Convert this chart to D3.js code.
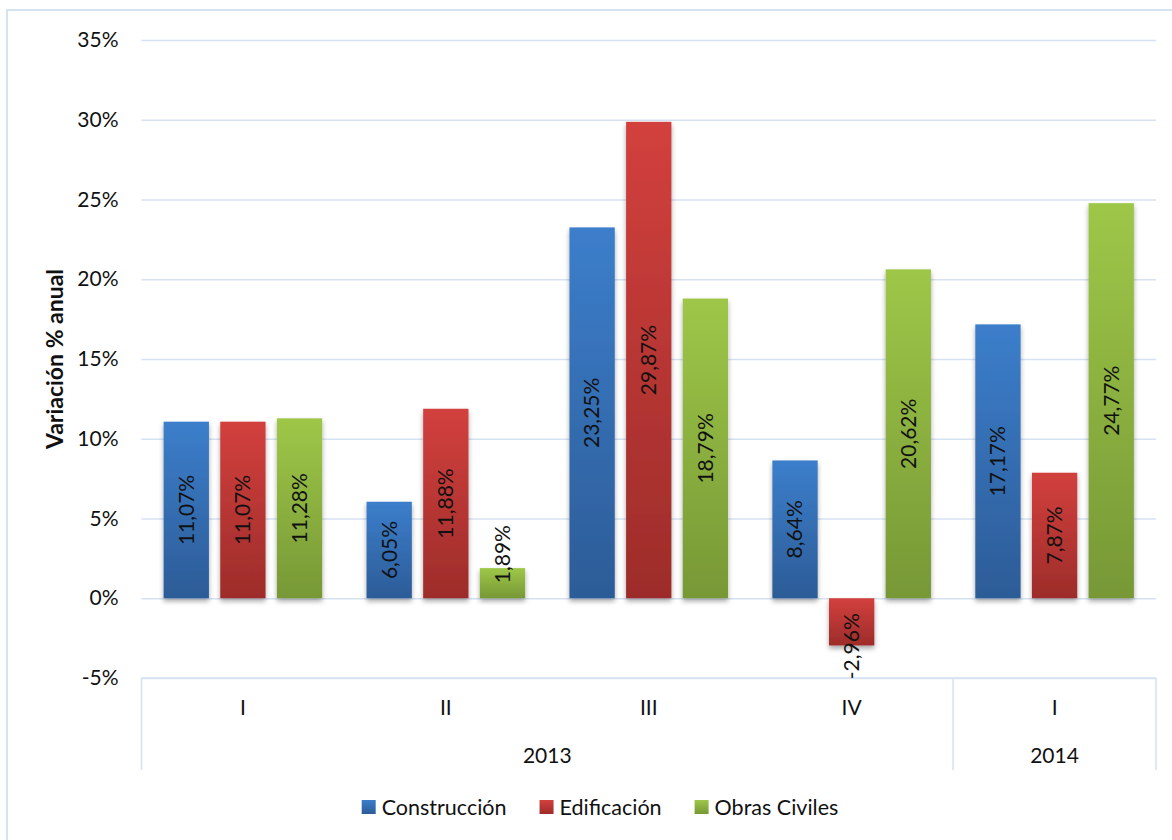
<!DOCTYPE html>
<html>
<head>
<meta charset="utf-8">
<script src="https://cdn.jsdelivr.net/npm/d3@7"></script>
<style>
  html, body { margin: 0; padding: 0; background: #fff; }
  svg { display: block; font-family: Lato, "Open Sans", sans-serif; }
</style>
</head>
<body>
<svg id="chart" width="1172" height="840"></svg>
<script>
const quarters = ["I", "II", "III", "IV", "I"];
const years = ["2013", "2013", "2013", "2013", "2014"];
const seriesNames = ["Construcción", "Edificación", "Obras Civiles"];
const construccion = [11.07, 6.05, 23.25, 8.64, 17.17];
const edificacion = [11.07, 11.88, 29.87, -2.96, 7.87];
const obrasCiviles = [11.28, 1.89, 18.79, 20.62, 24.77];
const yTicks = [-5, 0, 5, 10, 15, 20, 25, 30, 35];
const yTitle = "Variación % anual";

(function () {
const seriesValues = [construccion, edificacion, obrasCiviles];
const colors = [
  { top: "#3c7ecb", bottom: "#2c5c97" },
  { top: "#d2403d", bottom: "#9d2c2a" },
  { top: "#9ec748", bottom: "#779836" }
];

const svg = d3.select("#chart");
const pLeft = 141.5, pRight = 1156, pTop = 40, pBottom = 678;
const FS = "21px";

// outer chart border
svg.append("rect").attr("x", 7).attr("y", 10).attr("width", 1200).attr("height", 900)
  .attr("fill", "none").attr("stroke", "#d5e2f2").attr("stroke-width", 2);

const defs = svg.append("defs");
colors.forEach((c, i) => {
  const g = defs.append("linearGradient").attr("id", "grad" + i)
    .attr("x1", 0).attr("y1", 0).attr("x2", 0).attr("y2", 1);
  g.append("stop").attr("offset", "0%").attr("stop-color", c.top);
  g.append("stop").attr("offset", "100%").attr("stop-color", c.bottom);
});
const f = defs.append("filter").attr("id", "shadow")
  .attr("x", "-20%").attr("y", "-20%").attr("width", "140%").attr("height", "140%");
f.append("feDropShadow").attr("dx", 0).attr("dy", 3).attr("stdDeviation", 2.5)
  .attr("flood-color", "#000").attr("flood-opacity", 0.35);

const idx = d3.range(quarters.length);
const x0 = d3.scaleBand().domain(idx).range([pLeft, pRight]).paddingInner(0.2185).paddingOuter(0.109);
const x1 = d3.scaleBand().domain(d3.range(seriesNames.length)).range([0, x0.bandwidth()]).paddingInner(0.2);
const y = d3.scaleLinear().domain([-5, 35]).range([pBottom, pTop]);

// gridlines + y tick labels
const yAxis = d3.axisLeft(y).tickValues(yTicks).tickSize(-(pRight - pLeft)).tickFormat(d => d + "%");
const ga = svg.append("g").attr("transform", `translate(${pLeft},0)`).call(yAxis);
ga.select(".domain").remove();
ga.selectAll(".tick line").attr("stroke", "#d6e2f2").attr("stroke-width", 1.6);
ga.selectAll(".tick text").attr("x", -23).attr("fill", "#111").style("font-size", FS)
  .style("font-family", "Lato, sans-serif");

// category box
const boxBottom = 770;
svg.append("line").attr("x1", pLeft).attr("x2", pRight).attr("y1", y(-5)).attr("y2", y(-5))
  .attr("stroke", "#d6e2f2").attr("stroke-width", 1.6);
const yearGroups = [];
years.forEach((yr, i) => {
  if (!yearGroups.length || yearGroups[yearGroups.length - 1].year !== yr) yearGroups.push({ year: yr, start: i, end: i });
  else yearGroups[yearGroups.length - 1].end = i;
});
const boundaries = [pLeft];
yearGroups.forEach(g => boundaries.push(pLeft + (g.end + 1) * (pRight - pLeft) / quarters.length));
boundaries.forEach(bx => {
  svg.append("line").attr("x1", bx).attr("x2", bx).attr("y1", y(-5)).attr("y2", boxBottom)
    .attr("stroke", "#d6e2f2").attr("stroke-width", 1.6);
});

// quarter labels
svg.append("g").selectAll("text").data(idx).join("text")
  .attr("x", i => x0(i) + x0.bandwidth() / 2).attr("y", 715)
  .attr("text-anchor", "middle").attr("fill", "#111").style("font-size", FS)
  .text(i => quarters[i]);
// year labels
svg.append("g").selectAll("text").data(yearGroups).join("text")
  .attr("x", (g, k) => (boundaries[k] + boundaries[k + 1]) / 2).attr("y", 763)
  .attr("text-anchor", "middle").attr("fill", "#111").style("font-size", FS)
  .text(g => g.year);

// bars
const barData = [];
idx.forEach(i => seriesValues.forEach((vals, s) => barData.push({ i, s, v: vals[i] })));
svg.append("g").selectAll("rect").data(barData).join("rect")
  .attr("x", d => x0(d.i) + x1(d.s))
  .attr("width", x1.bandwidth())
  .attr("y", d => y(Math.max(0, d.v)))
  .attr("height", d => Math.abs(y(d.v) - y(0)))
  .attr("fill", d => `url(#grad${d.s})`)
  .attr("filter", "url(#shadow)");

// value labels (rotated); centred in bar, or pushed outward when longer than the bar
const fmt = v => v.toFixed(2).replace(".", ",") + "%";
const labels = svg.append("g").selectAll("text").data(barData).join("text")
  .attr("text-anchor", "middle").attr("dy", "0.35em")
  .attr("fill", "#111").style("font-size", FS)
  .text(d => fmt(d.v));
labels.attr("transform", function (d) {
  const cx = x0(d.i) + x1(d.s) + x1.bandwidth() / 2;
  const len = this.getComputedTextLength();
  const barLen = Math.abs(y(d.v) - y(0));
  let cy;
  if (len + 8 <= barLen) cy = (y(d.v) + y(0)) / 2;
  else {
    const dir = d.v >= 0 ? -1 : 1;
    cy = y(0) + dir * (15 + len / 2);
  }
  return `translate(${cx},${cy}) rotate(-90)`;
});

// y title
svg.append("text").attr("transform", `translate(63,${(y(-5) + y(35)) / 2}) rotate(-90)`)
  .attr("text-anchor", "middle").style("font-size", "23px").style("font-weight", "bold")
  .attr("fill", "#111").text(yTitle);

// legend
const legend = svg.append("g");
const items = legend.selectAll("g").data(seriesNames).join("g");
items.append("rect").attr("width", 14).attr("height", 14).attr("y", 800)
  .attr("fill", (d, i) => `url(#grad${i})`);
items.append("text").attr("x", 20).attr("y", 815).style("font-size", "21.5px").attr("fill", "#111").text(d => d);
const widths = [];
items.each(function () { widths.push(this.getBBox().width); });
const gap = 33;
const total = d3.sum(widths) + gap * (widths.length - 1);
let lx = 600 - total / 2;
items.attr("transform", (d, i) => {
  const t = `translate(${lx},0)`;
  lx += widths[i] + gap;
  return t;
});
})();
</script>
</body>
</html>
